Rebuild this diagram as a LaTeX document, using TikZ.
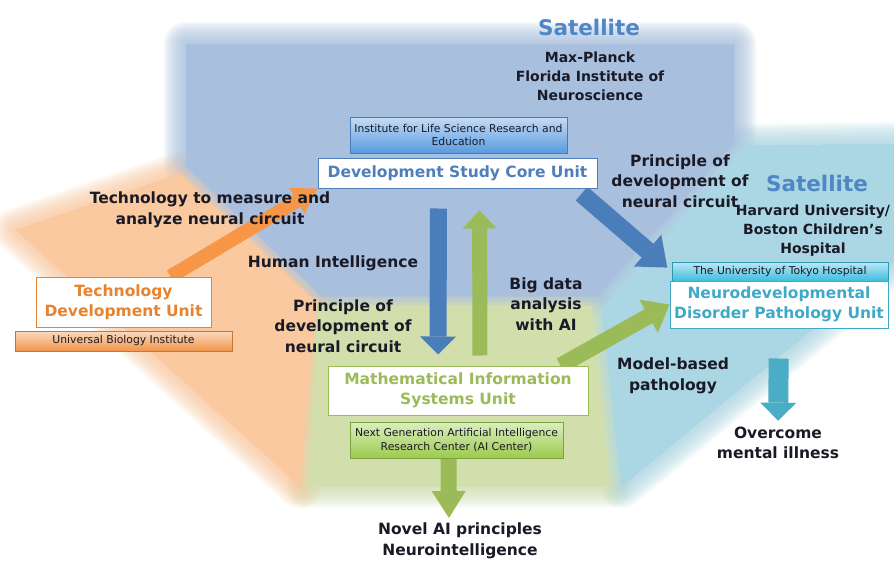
\documentclass[tikz,border=0pt]{standalone}
\usepackage{fontspec}
\setmainfont{DejaVu Sans}
\usepackage{tikz}
\usetikzlibrary{positioning,arrows.meta}
\definecolor{inkdark}{HTML}{1A1A26}
\definecolor{satblue}{HTML}{4F86C6}
\definecolor{coreblue}{HTML}{4F7FBA}
\definecolor{techorange}{HTML}{E8822E}
\definecolor{mathgreen}{HTML}{9BBB59}
\definecolor{neuroteal}{HTML}{3FA9C8}
\definecolor{arrblue}{HTML}{4A7EBB}
\definecolor{arrgreen}{HTML}{9BBB59}
\definecolor{arrorange}{HTML}{F79646}
\definecolor{arrteal}{HTML}{4BACC6}
\definecolor{hostblue}{HTML}{5A9BE0}
\definecolor{hostorange}{HTML}{F2954A}
\definecolor{hostgreen}{HTML}{9BCB4E}
\definecolor{hostcyan}{HTML}{3DBEDE}
\definecolor{zoneblue}{HTML}{A8BFDE}
\definecolor{zoneorange}{HTML}{FAC9A0}
\definecolor{zonegreen}{HTML}{D2DFAD}
\definecolor{zoneteal}{HTML}{ABD6E3}
\pgfdeclarelayer{zones}
\pgfdeclarelayer{links}
\pgfsetlayers{zones,links,main}

\begin{document}
\begin{tikzpicture}[
  x=1pt, y=-1pt,
  lbl/.style={font=\fontsize{15.5}{20.5}\selectfont\bfseries, align=center, text=inkdark, inner sep=0pt},
  sat/.style={font=\fontsize{21.5}{24}\selectfont\bfseries, text=satblue, inner sep=0pt},
  site/.style={font=\fontsize{14}{19}\selectfont\bfseries, align=center, text=inkdark, inner sep=0pt},
  unit/.style={draw=#1, fill=white, text=#1, line width=1pt, font=\fontsize{15.5}{20}\selectfont\bfseries, align=center, inner sep=0pt},
  host/.style={draw=#1!80!black, top color=#1!35!white, bottom color=#1, font=\fontsize{10.8}{13.5}\selectfont, text=inkdark, align=center, inner sep=0pt},
  fat/.style n args={4}{draw=#1, line width=#2, -{Triangle[width=#3, length=#4, line width=0pt]}},
  zone/.style={line join=round},
]
  \useasboundingbox (0,0) rectangle (894,560);

  \node[host=hostblue, minimum width=217pt, minimum height=36pt] (lifesci) at (458.5,135) {Institute for Life Science Research and\\Education};
  \node[unit=coreblue, minimum width=279pt, minimum height=30pt] (core) at (457.5,173) {Development Study Core Unit};
  \node[unit=techorange, minimum width=175pt, minimum height=50pt] (tech) at (123.5,302) {Technology\\Development Unit};
  \node[host=hostorange, minimum width=217pt, minimum height=20pt] (ubi) at (123.5,341) {Universal Biology Institute};
  \node[unit=mathgreen, minimum width=260pt, minimum height=49pt] (math) at (458,390.5) {Mathematical Information\\Systems Unit};
  \node[host=hostgreen, minimum width=213pt, minimum height=36pt] (aicenter) at (456.5,440) {Next Generation Artificial Intelligence\\Research Center (AI Center)};
  \node[host=hostcyan, minimum width=216pt, minimum height=19pt] (utokyo) at (780,271.5) {The University of Tokyo Hospital};
  \node[unit=neuroteal, minimum width=218pt, minimum height=47pt] (neuro) at (779,304.5) {Neurodevelopmental\\Disorder Pathology Unit};

  \node[sat] (satmpfi) at (589,27) {Satellite};
  \node[site] (mpfi) at (590,76) {Max-Planck\\Florida Institute of\\Neuroscience};
  \node[sat] (satbch) at (817,183) {Satellite};
  \node[site] (bch) at (813,231) {Harvard University/\\Boston Children’s\\Hospital};
  \node[lbl] (principleR) at (680,181) {Principle of\\development of\\neural circuit};
  \node[lbl] (measure) at (210,210) {Technology to measure and\\analyze neural circuit};
  \node[lbl] (human) at (333,263) {Human Intelligence};
  \node[lbl] (principleL) at (343,326) {Principle of\\development of\\neural circuit};
  \node[lbl] (bigdata) at (546,304) {Big data\\analysis\\with AI};
  \node[lbl] (model) at (673,376) {Model-based\\pathology};
  \node[lbl] (cure) at (778,443) {Overcome\\mental illness};
  \node[lbl] (novel) at (460,541) {Novel AI principles\\Neurointelligence};

  \begin{pgfonlayer}{links}
    \draw[fat={arrorange}{14pt}{30pt}{24pt}] ([xshift=47pt]tech.north) -- (core.south west);
    \draw[fat={arrblue}{17pt}{36pt}{18pt}, shorten <=20pt, shorten >=11pt] ([xshift=-19pt]core.south) -- ([xshift=-20pt]math.north);
    \draw[fat={arrgreen}{15pt}{34pt}{18pt}, shorten <=10pt, shorten >=22pt] ([xshift=22pt]math.north) -- ([xshift=22pt]core.south);
    \draw[fat={arrblue}{18pt}{42pt}{26pt}, shorten <=8pt, shorten >=6pt] ([xshift=-22pt]core.south east) -- (utokyo.west);
    \draw[fat={arrgreen}{16pt}{38pt}{24pt}] ([xshift=-28pt]math.north east) -- (neuro.west);
    \draw[fat={arrgreen}{16pt}{34pt}{27pt}, shorten >=5pt] ([xshift=-8pt]aicenter.south) -- ([xshift=-11pt]novel.north);
    \draw[fat={arrteal}{20pt}{36pt}{18pt}, shorten <=30pt, shorten >=6pt] (neuro.south) -- (cure.north);
  \end{pgfonlayer}

  \begin{pgfonlayer}{zones}
    \fill[white] (0,0) rectangle (894,560);
    \foreach \w in {44,40,...,4}{
      \filldraw[zone, zonegreen, opacity=0.12, line width=\w pt] (318,306) -- (592,306) -- (610,486) -- (308,486) -- cycle;
      \filldraw[zone, zoneteal, opacity=0.12, line width=\w pt] (746,146) -- (894,144) -- (894,262) -- (622,486) -- (602,308) -- cycle;
      \filldraw[zone, zoneorange, opacity=0.12, line width=\w pt] (16,230) -- (180,174) -- (316,302) -- (300,486) -- cycle;
      \filldraw[zone, zoneblue, opacity=0.12, line width=\w pt] (186,44) -- (734,44) -- (734,142) -- (598,296) -- (322,296) -- (186,166) -- cycle;
    }
    \fill[zonegreen] (318,306) -- (592,306) -- (610,486) -- (308,486) -- cycle;
    \fill[zoneteal] (746,146) -- (894,144) -- (894,262) -- (622,486) -- (602,308) -- cycle;
    \fill[zoneorange] (16,230) -- (180,174) -- (316,302) -- (300,486) -- cycle;
    \fill[zoneblue] (186,44) -- (734,44) -- (734,142) -- (598,296) -- (322,296) -- (186,166) -- cycle;
  \end{pgfonlayer}
\end{tikzpicture}
\end{document}
